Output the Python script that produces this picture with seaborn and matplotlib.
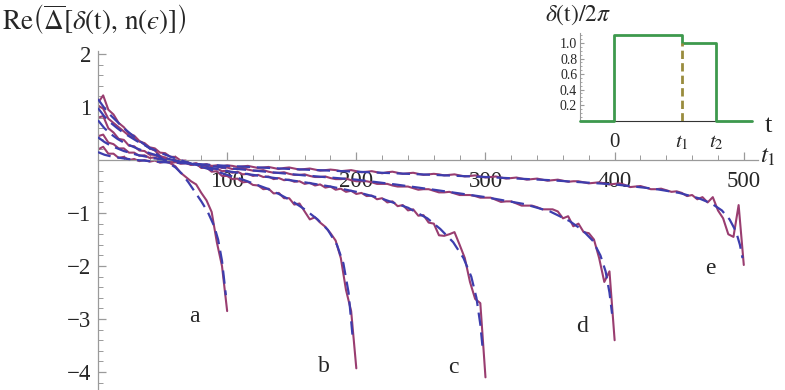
import numpy as np
import seaborn as sns
import matplotlib.pyplot as plt
from matplotlib.ticker import MultipleLocator

# curves a-e: t2 = 100 ... 500, x axis is t1 from 0 to t2
names = ['a', 'b', 'c', 'd', 'e']
t_ends = [100, 200, 300, 400, 500]

# numerical result (solid), read every 4 units of t1
sol_a = [1.08, 1.22, 0.95, 0.86, 0.70, 0.62, 0.50, 0.46, 0.36, 0.30, 0.22, 0.18, 0.08,
         0.04, -0.06, -0.12, -0.24, -0.32, -0.40, -0.46, -0.62, -0.76, -0.98, -1.55,
         -2.00, -2.85]
sol_b = [1.03, 0.97, 0.78, 0.70, 0.62, 0.54, 0.46, 0.42, 0.35, 0.32, 0.24, 0.22, 0.14,
         0.13, 0.06, 0.06, -0.01, -0.01, -0.08, -0.07, -0.15, -0.14, -0.22, -0.21, -0.30,
         -0.30, -0.36, -0.35, -0.42, -0.41, -0.47, -0.48, -0.55, -0.54, -0.63, -0.62,
         -0.72, -0.72, -0.84, -0.82, -0.97, -1.12, -1.08, -1.18, -1.26, -1.38, -1.52,
         -1.85, -2.45, -2.85, -3.93]
sol_c = [0.80, 0.83, 0.60, 0.52, 0.40, 0.38, 0.27, 0.26, 0.18, 0.17, 0.10, 0.10, 0.04,
         0.05, -0.01, 0.00, -0.05, -0.04, -0.09, -0.08, -0.13, -0.11, -0.17, -0.16, -0.21,
         -0.20, -0.24, -0.22, -0.27, -0.26, -0.30, -0.28, -0.32, -0.31, -0.36, -0.34,
         -0.38, -0.37, -0.41, -0.40, -0.45, -0.43, -0.48, -0.46, -0.52, -0.50, -0.56,
         -0.54, -0.60, -0.58, -0.64, -0.62, -0.68, -0.67, -0.74, -0.72, -0.80, -0.78,
         -0.87, -0.85, -0.95, -0.93, -1.05, -1.04, -1.18, -1.20, -1.42, -1.43, -1.40,
         -1.36, -1.60, -1.85, -2.30, -2.62, -2.70, -4.10]
sol_d = [0.45, 0.48, 0.33, 0.30, 0.22, 0.22, 0.14, 0.14, 0.08, 0.09, 0.04, 0.05, 0.00,
         0.01, -0.03, -0.02, -0.05, -0.04, -0.08, -0.06, -0.10, -0.08, -0.12, -0.11, -0.15,
         -0.14, -0.17, -0.16, -0.15, -0.18, -0.20, -0.20, -0.19, -0.22, -0.24, -0.24,
         -0.23, -0.26, -0.28, -0.28, -0.27, -0.30, -0.32, -0.32, -0.31, -0.34, -0.36,
         -0.36, -0.35, -0.38, -0.40, -0.40, -0.40, -0.42, -0.45, -0.45, -0.45, -0.48,
         -0.50, -0.50, -0.50, -0.53, -0.56, -0.55, -0.55, -0.58, -0.61, -0.61, -0.60,
         -0.63, -0.66, -0.66, -0.66, -0.68, -0.71, -0.71, -0.71, -0.75, -0.79, -0.78,
         -0.78, -0.82, -0.86, -0.86, -0.86, -0.89, -0.93, -0.93, -0.93, -0.97,
         -1.10, -1.06, -1.25, -1.20, -1.36, -1.38, -1.50, -1.85, -2.30, -2.10, -3.40]
sol_e = [0.20, 0.25, 0.12, 0.12, 0.04, 0.06, 0.00, 0.02, -0.02, 0.00, -0.03, -0.01, -0.05,
         -0.03, -0.06, -0.04, -0.07, -0.06, -0.09, -0.07, -0.10, -0.08, -0.11, -0.10, -0.12,
         -0.10, -0.11, -0.13, -0.12, -0.11, -0.13, -0.15, -0.14, -0.13, -0.15, -0.17,
         -0.15, -0.14, -0.16, -0.18, -0.17, -0.16, -0.18, -0.20, -0.19, -0.18, -0.19,
         -0.21, -0.20, -0.19, -0.21, -0.23, -0.22, -0.21, -0.23, -0.25, -0.23, -0.22,
         -0.24, -0.26, -0.25, -0.24, -0.26, -0.28, -0.27, -0.26, -0.27, -0.29, -0.28,
         -0.27, -0.29, -0.31, -0.30, -0.29, -0.31, -0.33, -0.32, -0.31, -0.33, -0.35,
         -0.34, -0.33, -0.35, -0.37, -0.36, -0.35, -0.37, -0.39, -0.38, -0.37, -0.39,
         -0.41, -0.40, -0.40, -0.42, -0.44, -0.43, -0.42, -0.44, -0.46, -0.45, -0.44,
         -0.47, -0.51, -0.50, -0.49, -0.52, -0.55, -0.55, -0.54, -0.57, -0.60, -0.59,
         -0.62, -0.68, -0.66, -0.74, -0.70, -0.80, -0.70, -0.95, -1.10, -1.40, -1.45,
         -0.85, -1.98]

# approximate formula (dashed)
dash_a_t = [0, 5, 10, 15, 20, 25, 30, 35, 40, 45, 50, 55, 60, 65, 70, 75, 80, 85, 90, 93, 96, 99]
dash_a_y = [1.15, 0.98, 0.84, 0.72, 0.60, 0.50, 0.40, 0.31, 0.22, 0.12, 0.02, -0.06, -0.14,
            -0.26, -0.42, -0.60, -0.78, -0.98, -1.25, -1.50, -1.90, -2.55]
dash_b_t = [0, 5, 10, 15, 20, 30, 40, 50, 60, 70, 80, 90, 100, 110, 120, 130, 140, 150, 160,
            170, 178, 185, 190, 194, 197]
dash_b_y = [0.98, 0.82, 0.70, 0.60, 0.51, 0.36, 0.23, 0.12, 0.03, -0.05, -0.13, -0.20, -0.28,
            -0.35, -0.44, -0.53, -0.64, -0.77, -0.93, -1.12, -1.32, -1.60, -1.95, -2.50, -3.30]
dash_c_t = [0, 5, 10, 15, 20, 30, 40, 50, 60, 70, 80, 90, 100, 120, 140, 160, 180, 200, 220,
            240, 255, 265, 275, 283, 289, 293, 296, 298]
dash_c_y = [0.75, 0.60, 0.49, 0.40, 0.33, 0.22, 0.13, 0.05, -0.01, -0.06, -0.11, -0.16, -0.21,
            -0.28, -0.35, -0.42, -0.50, -0.60, -0.73, -0.90, -1.10, -1.30, -1.55, -1.85,
            -2.20, -2.60, -3.10, -3.60]
dash_d_t = [0, 5, 10, 15, 20, 30, 40, 50, 60, 80, 100, 130, 160, 200, 230, 260, 300, 330, 350,
            365, 375, 383, 389, 393, 396, 398]
dash_d_y = [0.43, 0.34, 0.27, 0.22, 0.17, 0.10, 0.05, 0.01, -0.02, -0.09, -0.15, -0.22, -0.29,
            -0.37, -0.46, -0.56, -0.70, -0.83, -0.97, -1.15, -1.32, -1.52, -1.80, -2.10,
            -2.50, -2.90]
dash_e_t = [0, 5, 10, 20, 30, 40, 50, 60, 80, 100, 150, 200, 250, 300, 350, 400, 430, 450,
            465, 475, 483, 489, 494, 497, 499]
dash_e_y = [0.15, 0.10, 0.07, 0.03, 0.00, -0.02, -0.04, -0.05, -0.08, -0.11, -0.17, -0.22,
            -0.27, -0.32, -0.38, -0.46, -0.54, -0.62, -0.72, -0.82, -0.95, -1.12, -1.35,
            -1.60, -1.85]

# where the letters sit
lab_t = [75, 175, 275, 375, 474]
lab_y = [-2.96, -3.90, -3.92, -3.15, -2.04]

# inset: delta(t)/2pi, t1 = 2, t2 = 3 in inset units
step_t = [-1.0, 0, 0, 2, 2, 3, 3, 4.06]
step_v = [0, 0, 1.1, 1.1, 1.0, 1.0, 0, 0]

sols = [sol_a, sol_b, sol_c, sol_d, sol_e]
dashes = [(dash_a_t, dash_a_y), (dash_b_t, dash_b_y), (dash_c_t, dash_c_y),
          (dash_d_t, dash_d_y), (dash_e_t, dash_e_y)]

sns.set_style("white")
plt.rcParams['font.family'] = ['Liberation Serif', 'DejaVu Serif']
plt.rcParams['mathtext.fontset'] = 'stix'

purple = (0.6, 0.24, 0.44)
blue = (0.24, 0.24, 0.68)
green = (0.24, 0.6, 0.3)
olive = (0.6, 0.55, 0.24)
grey = '#9a9a9a'

fig = plt.figure(figsize=(7.85, 3.9), dpi=100)
ax = fig.add_axes([98 / 785, 1 / 390, 660 / 785, 337.6 / 390])

for sol, t2, (dt, dy) in zip(sols, t_ends, dashes):
    x = np.linspace(0, t2, len(sol))
    sns.lineplot(x=x, y=sol, ax=ax, color=purple, lw=1.5, estimator=None, sort=False)
    sns.lineplot(x=dt, y=dy, ax=ax, color=blue, lw=1.6, estimator=None, sort=False,
                 linestyle=(0, (6, 3)), zorder=3)

for n, lt, ly in zip(names, lab_t, lab_y):
    ax.text(lt, ly, n, fontsize=17, ha='center', va='center')

ax.set_xlim(0, 511)
ax.set_ylim(-4.32, 2.05)
for s in ['top', 'right']:
    ax.spines[s].set_visible(False)
ax.spines['left'].set_position(('data', 0))
ax.spines['bottom'].set_position(('data', 0))
for s in ['left', 'bottom']:
    ax.spines[s].set_color(grey)
    ax.spines[s].set_linewidth(0.9)

ax.set_xticks([100, 200, 300, 400, 500])
ax.xaxis.set_minor_locator(MultipleLocator(20))
ax.set_yticks([-4, -3, -2, -1, 1, 2])
ax.set_yticklabels(['\u22124', '\u22123', '\u22122', '\u22121', '1', '2'])
ax.yaxis.set_minor_locator(MultipleLocator(0.2))
ax.tick_params(which='both', direction='in', color=grey, labelsize=16.5,
               bottom=True, left=True)
ax.tick_params(which='major', length=6, width=0.9)
ax.tick_params(which='minor', length=3.5, width=0.7)
ax.tick_params(axis='x', pad=8)
ax.tick_params(axis='y', pad=5)
ax.set_xlabel('')
ax.set_ylabel('')

fig.text(2 / 785, 1 - 20 / 390,
         r'$\mathrm{Re}\left(\overline{\Delta}[\delta(\mathrm{t}),\,\mathrm{n}(ϵ)]\right)$',
         fontsize=19.5, ha='left', va='center')
fig.text(768 / 785, 1 - 157 / 390, r'$t_1$', fontsize=18, ha='center', va='center')

# inset
axi = fig.add_axes([580 / 785, 1 - 120.5 / 390, 172 / 785, 87.5 / 390])
axi.patch.set_alpha(0)
sns.lineplot(x=step_t, y=step_v, ax=axi, color=green, lw=2, estimator=None, sort=False,
             zorder=3, clip_on=False)
axi.plot([2, 2], [0, 1.0], color=olive, lw=2, linestyle=(0, (3, 1.5)), zorder=4)
axi.set_xlim(-1.0, 4.06)
axi.set_ylim(0, 1.13)
for s in ['top', 'right']:
    axi.spines[s].set_visible(False)
axi.spines['left'].set_color(grey)
axi.spines['bottom'].set_color('#333333')
axi.spines['left'].set_linewidth(0.8)
axi.set_xticks([0, 2, 3])
axi.set_xticklabels(['0', r'$t_1$', r'$t_2$'])
axi.tick_params(axis='x', length=0, pad=9, labelsize=15)
axi.set_yticks([0.2, 0.4, 0.6, 0.8, 1.0])
axi.set_yticklabels(['0.2', '0.4', '0.6', '0.8', '1.0'])
axi.yaxis.set_minor_locator(MultipleLocator(0.05))
axi.tick_params(axis='y', which='both', direction='in', color=grey, labelsize=10, pad=2,
                left=True)
axi.tick_params(axis='y', which='major', length=3)
axi.tick_params(axis='y', which='minor', length=1.5)
axi.set_xlabel('')
axi.set_ylabel('')

fig.text(578 / 785, 1 - 15 / 390, r'$\delta(\mathrm{t})/2\pi$', fontsize=17,
         ha='center', va='center')
fig.text(768 / 785, 1 - 126 / 390, 't', fontsize=19, ha='center', va='center')

fig.savefig('out.png', dpi=100)
